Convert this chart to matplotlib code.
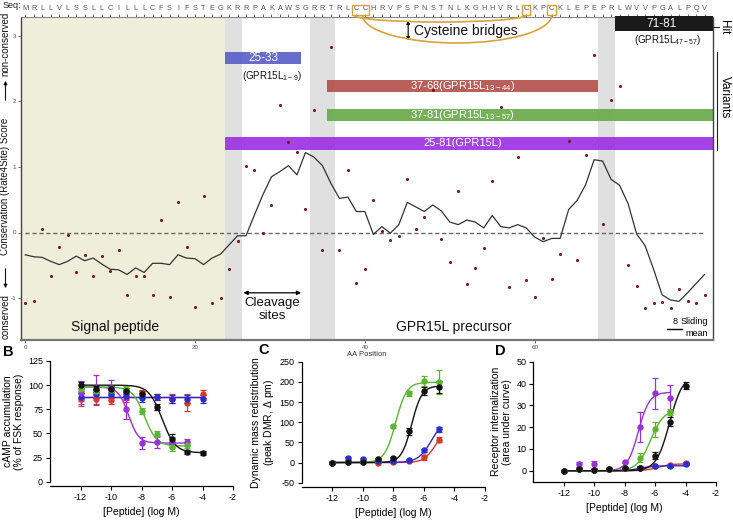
import matplotlib
matplotlib.use("Agg")
import matplotlib.pyplot as plt
import matplotlib.transforms as mtransforms
from matplotlib.patches import Rectangle, Arc, FancyArrowPatch
import numpy as np

plt.rcParams['font.family'] = ['Liberation Sans', 'DejaVu Sans']
plt.rcParams['mathtext.fontset'] = 'custom'
plt.rcParams['mathtext.rm'] = 'Liberation Sans'

# ---------------- data: panel A ----------------
sequence = "MRLLVLSSLLCILLLCFSIFSTEGKRRPAKAWSGRRTRLCCHRVPSPNSTNLKGHHVRLCKPCKLEPEPRLWVVPGALPQV"
positions = list(range(len(sequence)))
scores = [-1.07, -1.05, 0.05, -0.66, -0.22, -0.04, -0.60, -0.34, -0.66, -0.36,
          -0.59, -0.27, -0.95, -0.66, -0.66, -0.95, 0.19, -0.98, 0.47, -0.22,
          -1.13, 0.55, -1.07, -1.00, -0.56, -0.13, 1.01, 0.96, 0.00, 0.42,
          1.945, 1.38, 1.23, 0.36, 1.87, -0.26, 2.83, -0.26, 0.95, -0.77,
          -0.555, 0.50, 0.03, -0.11, -0.06, 0.82, 0.05, 0.23, 2.18, -0.10,
          -0.45, 0.64, -0.78, -0.54, -0.23, 0.79, 1.91, -0.83, 1.15, -0.73,
          -0.99, -0.08, -0.71, -0.33, 1.39, -0.42, 1.18, 2.71, 0.13, 2.015,
          2.235, -0.50, -0.82, -1.145, -1.08, -1.06, -1.145, -0.865, -1.04, -1.08,
          -0.96]
sliding_mean = [-0.34, -0.37, -0.38, -0.44, -0.49, -0.44, -0.36, -0.43, -0.39, -0.48,
                -0.56, -0.57, -0.64, -0.54, -0.61, -0.47, -0.47, -0.49, -0.34, -0.39,
                -0.40, -0.49, -0.39, -0.33, -0.19, -0.05, -0.05, 0.27, 0.58, 0.85,
                0.93, 1.02, 0.88, 1.22, 1.15, 1.02, 0.75, 0.52, 0.54, 0.32,
                0.32, -0.03, 0.09, -0.01, 0.12, 0.46, 0.39, 0.32, 0.42, 0.33,
                0.16, 0.12, 0.19, 0.16, 0.07, 0.26, 0.09, 0.07, 0.12, 0.07,
                -0.07, -0.14, -0.09, -0.09, 0.35, 0.49, 0.73, 1.11, 1.09, 0.81,
                0.72, 0.44, -0.02, -0.20, -0.56, -0.95, -1.03, -1.05, -0.92, -0.78,
                -0.64]
signal_peptide = (1, 24)                    # residues
cleavage_sites = [(25, 26), (35, 37), (69, 70)]  # residues (1-based, inclusive)
cysteine_bridges = [(40, 60), (41, 63)]     # residues (1-based)
variant_names = ["25-33", "37-68", "37-81", "25-81"]
variant_ranges = [(25, 33), (37, 68), (37, 81), (25, 81)]
variant_alias = ["GPR15L$_{\\mathregular{1-9}}$", "GPR15L$_{\\mathregular{13-44}}$",
                 "GPR15L$_{\\mathregular{13-57}}$", "GPR15L"]
hit_name = "71-81"
hit_range = (71, 81)
hit_alias = "GPR15L$_{\\mathregular{47-57}}$"
xticks_A = [0, 20, 40, 60]
yticks_A = [-1, 0, 1, 2, 3]

# ---------------- data: panels B-D ----------------
log_conc = [-12, -11, -10, -9, -8, -7, -6, -5, -4]
series_order = ["37-68", "25-33", "25-81", "37-81", "71-81"]
series_colors = {"37-68": "#d43a2c", "25-33": "#2b2bd6", "25-81": "#9b30d9",
                 "37-81": "#5cb531", "71-81": "#111111"}

B_mean = {"71-81": [100, 96, 96, 94, 91, 77, 44, 31, 30],
          "37-81": [96, 94, 95, 96, 73, 49, 36, 38],
          "25-81": [92, 95, 97, 75, 40, 41, 41, 41],
          "37-68": [86, 86, 85, 88, 92, 88, 86, 82, 91],
          "25-33": [88, 91, 91, 89, 87, 88, 86, 86, 86]}
B_err = {"71-81": [3, 3, 3, 3, 3, 3, 5, 2, 2],
         "37-81": [4, 4, 4, 3, 3, 3, 4, 3],
         "25-81": [12, 15, 8, 10, 6, 6, 5, 3],
         "37-68": [8, 7, 5, 5, 3, 3, 5, 9, 4],
         "25-33": [4, 4, 4, 3, 4, 3, 4, 4, 4]}
# fit: bottom, top, logEC50, hill, fit range
B_fit = {"71-81": (30, 100, -6.65, 1.0, -12, -4),
         "37-81": (37, 98, -7.8, 1.1, -12, -5),
         "25-81": (40, 98, -8.85, 1.3, -12, -5),
         "37-68": (88, 88, -8.0, 1.0, -12, -4),
         "25-33": (88, 88, -8.0, 1.0, -12, -4)}

C_mean = {"37-68": [0, 1, 2, 0, 2, 3, 13, 57],
          "25-33": [0, 10, 8, 3, 3, 6, 30, 82],
          "37-81": [0, 1, 2, 9, 90, 172, 202, 200],
          "71-81": [0, 1, 2, 8, 10, 77, 178, 187]}
C_err = {"37-68": [2, 2, 2, 2, 2, 2, 6, 6],
         "25-33": [2, 3, 3, 2, 2, 3, 4, 7],
         "37-81": [2, 2, 2, 3, 4, 6, 12, 30],
         "71-81": [3, 3, 3, 3, 3, 8, 10, 15]}
C_fit = {"37-68": (0, 80, -5.3, 1.2, -12, -5),
         "25-33": (0, 110, -5.5, 1.0, -12, -5),
         "37-81": (0, 199, -7.85, 1.2, -12, -5),
         "71-81": (0, 190, -6.8, 1.3, -12, -5)}

D_mean = {"37-68": [0, 0.8, 0.5, 1, 1.2, 1.5, 2, 2.5, 3.5],
          "25-33": [0, 0.8, 0.5, 1, 1.2, 1.5, 2, 2, 3.2],
          "25-81": [0, 3, 3, 1, 4, 20, 35.5, 33.5],
          "37-81": [0, 0.8, 0.5, 1, 1.2, 6, 19, 27],
          "71-81": [0, 0.8, 0.5, 1, 1.2, 1.5, 7, 22.5, 39]}
D_err = {"37-68": [0.3, 0.3, 0.3, 0.3, 0.3, 0.3, 0.4, 0.4, 0.6],
         "25-33": [0.3, 0.3, 0.3, 0.3, 0.3, 0.3, 0.4, 0.4, 0.6],
         "25-81": [0.3, 1.2, 1.5, 0.5, 0.5, 7, 7, 6],
         "37-81": [0.3, 0.3, 0.3, 0.3, 0.3, 2, 3.5, 1.5],
         "71-81": [0.5, 0.5, 0.5, 0.5, 0.5, 0.5, 1.8, 2, 1.5]}
D_fit = {"37-68": (0, 3.2, -5.8, 1.0, -12, -4),
         "25-33": (0, 2.3, -7.0, 1.0, -12, -4),
         "25-81": (0, 36, -7.1, 1.2, -12, -5),
         "37-81": (0, 28, -6.3, 1.0, -12, -5),
         "71-81": (0, 44, -5.05, 1.0, -12, -4)}

# ---------------- figure ----------------
W, H = 733, 520
fig = plt.figure(figsize=(W / 100, H / 100), dpi=100)


def fx(px):
    return px / W


def fy(py):
    return 1 - py / H


axA = fig.add_axes([fx(21), fy(340), fx(713) - fx(21), fy(17.5) - fy(340)])
axA.set_xlim(-0.5, 81)
axA.set_ylim(-1.64, 3.28)

# background regions
axA.axvspan(signal_peptide[0] - 1.5, signal_peptide[1] - 0.5, color='#efeedb', lw=0, zorder=0)
for a, b in cleavage_sites:
    axA.axvspan(a - 1.5, b - 0.5, color='#e0e0e0', lw=0, zorder=0.5)

# variant bars
bar_y = [(2.571, 2.754), (2.144, 2.331), (1.695, 1.884), (1.263, 1.456)]
bar_colors = ['#5a5fc9', '#b4524d', '#6aab4c', '#9b32e4']
for name, (s, e), alias, (y0, y1), col in zip(variant_names, variant_ranges, variant_alias, bar_y, bar_colors):
    x0 = s - 1.5
    x1 = e - 0.5 if e < len(sequence) else 81
    axA.add_patch(Rectangle((x0, y0), x1 - x0, y1 - y0, facecolor=col, edgecolor='none', alpha=0.92, zorder=2))
    if name == "25-33":
        axA.text((x0 + x1) / 2, (y0 + y1) / 2, name, color='white', fontsize=8.5, ha='center', va='center', zorder=3)
        axA.text((x0 + x1) / 2 + 1, y0 - 0.18, "(" + alias + ")", color='#111', fontsize=7, ha='center', va='center', zorder=3)
    else:
        axA.text(51.5, (y0 + y1) / 2, name + "(" + alias + ")", color='white', fontsize=8, ha='center', va='center', zorder=3)

# hit bar
hx0 = hit_range[0] - 1.5
hx1 = 81
axA.add_patch(Rectangle((hx0, 3.07), hx1 - hx0, 0.23, facecolor='#1a1a1a', edgecolor='none', zorder=2, clip_on=False))
axA.text((hx0 + hx1) / 2 - 0.3, 3.175, hit_name, color='white', fontsize=8.5, ha='center', va='center', zorder=3)
axA.text(75.7, 2.93, "(" + hit_alias + ")", color='#111', fontsize=7, ha='center', va='center', zorder=3)

# conservation data
axA.axhline(0, xmin=0.5 / 81.5, xmax=80.5 / 81.5, color='#666666', ls=(0, (3, 2)), lw=1, zorder=1)
axA.plot(positions, sliding_mean, color='#333333', lw=0.9, zorder=4)
axA.scatter(positions, scores, s=5, color='#7a1818', zorder=5, linewidths=0)

# ticks
axA.set_xticks(xticks_A)
axA.set_yticks(yticks_A)
axA.tick_params(axis='both', labelsize=4.5, length=2, width=0.6, colors='#555555', pad=1.5)
axA.set_xticklabels([str(t) for t in xticks_A])
axA.set_yticklabels([str(t) for t in yticks_A])
axA.set_xlabel("AA Position", fontsize=5.5, color='#333333', labelpad=0.5)
for sp in axA.spines.values():
    sp.set_color('#444444')
    sp.set_linewidth(1.0)
axA.spines['bottom'].set_color('#777777')
axA.spines['bottom'].set_linewidth(1.6)
axA.spines['top'].set_visible(False)

secax = axA.secondary_xaxis('top')
secax.set_xticks(positions)
secax.set_xticklabels(list(sequence))
secax.tick_params(axis='x', labelsize=5.3, length=2.5, width=0.6, colors='#555555', pad=1.2)
secax.spines['top'].set_color('#888888')
secax.spines['top'].set_linewidth(0.8)
fig.text(fx(3), fy(6), "Seq:", fontsize=6.5, color='#222', ha='left', va='center')

# cysteine boxes and bridges
trans = mtransforms.blended_transform_factory(axA.transData, axA.transAxes)
gold = '#d9a23a'
ytop = 1 + 2.5 / 322.5
ybox = 1 + 12.5 / 322.5
boxed = sorted(set([c for pair in cysteine_bridges for c in pair]))
axA.add_patch(Rectangle((39 - 0.5, ytop), 2, ybox - ytop, transform=trans, fill=False, edgecolor=gold, lw=1.0, clip_on=False, zorder=6))
for c in boxed:
    if c in (40, 41):
        continue
    axA.add_patch(Rectangle((c - 1 - 0.5, ytop), 1, ybox - ytop, transform=trans, fill=False, edgecolor=gold, lw=1.0, clip_on=False, zorder=6))
depths = [7 / 322.5, 28 / 322.5]
for (a, b), d in zip(cysteine_bridges, depths):
    xa, xb = a - 1 - 0.3, b - 1
    axA.add_patch(Arc(((xa + xb) / 2, ytop), xb - xa, 2 * d, theta1=180, theta2=360, transform=trans,
                      edgecolor=gold, lw=1.2, clip_on=False, zorder=6))
axA.annotate("", xy=(45.1, 1 - 23 / 322.5), xytext=(45.1, 1 - 3 / 322.5), xycoords=trans, textcoords=trans,
             arrowprops=dict(arrowstyle='<|-|>', color='black', lw=0.8, mutation_scale=5, shrinkA=0, shrinkB=0))
axA.text(45.8, 1 - 14 / 322.5, "Cysteine bridges", transform=trans, fontsize=10, ha='left', va='center', color='#111')

# annotations in plot
axA.text(10.6, -1.44, "Signal peptide", fontsize=10, ha='center', va='center', color='#111')
axA.text(50.5, -1.44, "GPR15L precursor", fontsize=10, ha='center', va='center', color='#111')
axA.annotate("", xy=(25.7, -0.92), xytext=(32.5, -0.92),
             arrowprops=dict(arrowstyle='<|-|>', color='black', lw=0.9, mutation_scale=6, shrinkA=0, shrinkB=0))
axA.text(29.1, -1.17, "Cleavage\nsites", fontsize=9.5, ha='center', va='center', color='#111', linespacing=1.1)
axA.plot([75.6, 77.4], [-1.47, -1.47], color='black', lw=1, clip_on=False)
axA.text(76.5, -1.43, "8", fontsize=6.5, ha='center', va='bottom')
axA.text(80.4, -1.43, "Sliding", fontsize=6.5, ha='right', va='bottom')
axA.text(80.4, -1.47, "mean", fontsize=6.5, ha='right', va='top')

# y label of A
ylx = fx(5.5)
fig.text(ylx, fy(186), "Conservation (Rate4Site) Score", rotation=90, fontsize=7, ha='center', va='center', color='#111')
fig.text(ylx, fy(317), "conserved", rotation=90, fontsize=7, ha='center', va='center', color='#111')
fig.text(ylx, fy(44), "non-conserved", rotation=90, fontsize=7, ha='center', va='center', color='#111')
fig.add_artist(FancyArrowPatch((ylx, fy(266)), (ylx, fy(291)), transform=fig.transFigure,
                               arrowstyle='-|>', mutation_scale=5, color='#111', lw=0.8))
fig.add_artist(FancyArrowPatch((ylx, fy(103)), (ylx, fy(78)), transform=fig.transFigure,
                               arrowstyle='-|>', mutation_scale=5, color='#111', lw=0.8))

# Hit / Variants labels on right
fig.text(fx(724), fy(27), "Hit", rotation=-90, fontsize=8.5, ha='center', va='center')
fig.add_artist(plt.Line2D([fx(713), fx(719)], [fy(26.5), fy(26.5)], color='#222', lw=0.8))
fig.text(fx(725), fy(97), "Variants", rotation=-90, fontsize=8.5, ha='center', va='center')
fig.add_artist(plt.Line2D([fx(716.7), fx(716.7)], [fy(52), fy(150)], color='#222', lw=0.8))


# ---------------- dose-response panels ----------------
def sigmoid(x, bottom, top, logec, hill):
    return bottom + (top - bottom) / (1 + 10 ** ((logec - x) * hill))


def dose_panel(rect, means, errs, fits, ylim, yticks, ylabel, letter, letter_pos, bottom_offset, decreasing=False):
    ax = fig.add_axes(rect)
    for key in series_order:
        if key not in means:
            continue
        col = series_colors[key]
        m = means[key]
        e = errs[key]
        xs = log_conc[:len(m)]
        b, t, ec, h, lo, hi = fits[key]
        xx = np.linspace(lo, hi, 200)
        hh = -h if decreasing else h
        ax.plot(xx, sigmoid(xx, b, t, ec, hh), color=col, lw=1.0, zorder=2)
        ax.errorbar(xs, m, yerr=e, fmt='o', color=col, ms=3.6, elinewidth=0.9, capsize=2.2, capthick=0.9, zorder=3)
    ax.set_xlim(-14, -2)
    ax.set_ylim(*ylim)
    ax.set_xticks([-12, -10, -8, -6, -4, -2])
    ax.set_xticklabels(['-12', '-10', '-8', '-6', '-4', '-2'])
    ax.set_yticks(yticks)
    ax.set_yticklabels([str(t) for t in yticks])
    ax.tick_params(labelsize=6.5, length=3, width=0.8, pad=2)
    ax.spines['top'].set_visible(False)
    ax.spines['right'].set_visible(False)
    for sp in ('left', 'bottom'):
        ax.spines[sp].set_linewidth(0.9)
    if bottom_offset:
        ax.spines['bottom'].set_position(('outward', bottom_offset))
    ax.set_xlabel("[Peptide] (log M)", fontsize=7.5, labelpad=4)
    ax.set_ylabel(ylabel, fontsize=7.5, labelpad=3, linespacing=1.1)
    fig.text(letter_pos[0], letter_pos[1], letter, fontsize=10.5, fontweight='bold', ha='left', va='center')
    return ax


dose_panel([fx(50), fy(481.7), fx(233) - fx(50), fy(361) - fy(481.7)], B_mean, B_err, B_fit,
           (0, 125), [0, 25, 50, 75, 100, 125], "cAMP accumulation\n(% of FSK response)", "B",
           (fx(3), fy(352)), 3, decreasing=True)
dose_panel([fx(301.7), fy(482.7), fx(485) - fx(301.7), fy(361.7) - fy(482.7)], C_mean, C_err, C_fit,
           (-50, 250), [-50, 0, 50, 100, 150, 200, 250], "Dynamic mass redistribution\n(peak DMR, $\\Delta$ pm)", "C",
           (fx(258), fy(350)), 3)
dose_panel([fx(533.3), fy(481.7), fx(716) - fx(533.3), fy(361.7) - fy(481.7)], D_mean, D_err, D_fit,
           (-5, 50), [0, 10, 20, 30, 40, 50], "Receptor internalization\n(area under curve)", "D",
           (fx(495), fy(351)), 0)

fig.savefig("out.png", dpi=100)
